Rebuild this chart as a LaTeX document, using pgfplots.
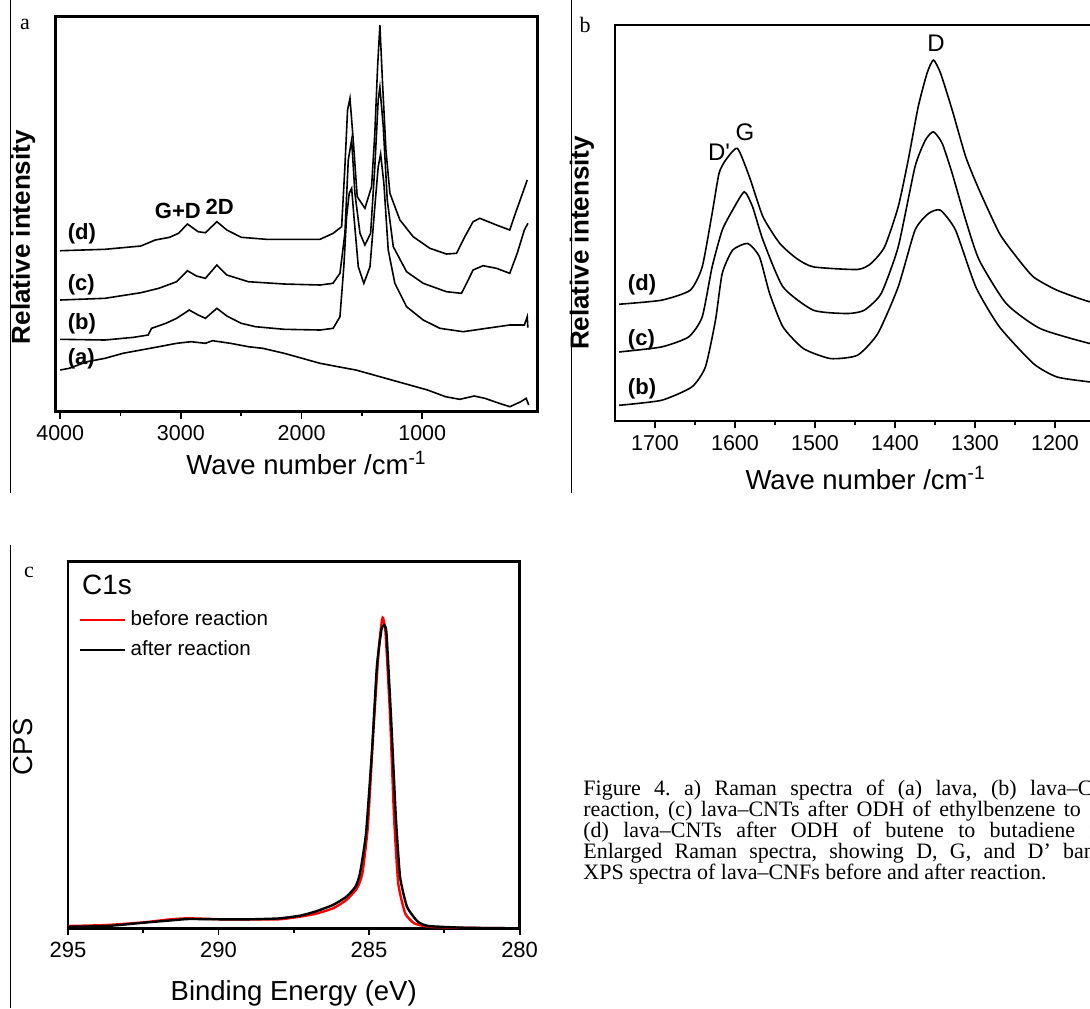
\documentclass[border=0pt]{standalone}
\usepackage{fontspec}
\setmainfont{Liberation Serif}
\newfontfamily\arial{Liberation Sans}
\usepackage{pgfplots}
\pgfplotsset{compat=1.18}

\pgfplotsset{
  spec/.style={
    scale only axis, x dir=reverse, ytick=\empty,
    xtick pos=left, tick align=outside,
    axis line style={line width=1.3pt},
    every tick/.style={black, line width=0.9pt},
    major tick length=3.5pt, minor tick length=2.2pt,
    scaled x ticks=false,
    tick label style={font=\fontsize{10.75}{12}\selectfont\arial},
    /pgf/number format/assume math mode=true,
    /pgf/number format/1000 sep={},
    label style={font=\fontsize{13.75}{16}\selectfont\arial},
    ylabel style={font=\fontsize{13}{15}\selectfont\arial\bfseries},
  },
  curve/.style={black, line width=0.8pt},
}

\begin{document}
\begin{tikzpicture}
\clip (0pt,0pt) rectangle (545pt,-504pt);

% ---- panel a ----
\begin{axis}[spec,
  at={(27.7pt,-205.85pt)}, anchor=south west,
  width=241.05pt, height=197.5pt,
  xmin=45, xmax=4040, ymin=0, ymax=395,
  xtick={1000,2000,3000,4000}, minor x tick num=1,
  xlabel={Wave number /cm\textsuperscript{-1}},
  xlabel style={at={(axis description cs:0.521,-0.160)}, anchor=base},
  ylabel={Relative intensity},
  ylabel style={at={(axis description cs:-0.0668,0.442)}, anchor=center},
]
% (a)
\addplot[curve] coordinates {
(4000,41.7) (3926,43.4) (3777,50) (3629,53.4) (3480,58.4) (3332,61.7)
(3183,65) (3035,68.4) (2916,70) (2797,68.4) (2738,71) (2589,68.4)
(2441,65) (2322,63.4) (2144,58.4) (1995,53.4) (1847,48.4) (1698,45)
(1550,41.7) (1401,36.7) (1253,31.7) (1104,26.7) (956,21.7) (807,15)
(689,12.4) (570,15.7) (481,13.4) (362,8.4) (273,5) (184,10) (139,13.4) (118,6.7)
};
% (b)
\addplot[curve] coordinates {
(4000,72.4) (3629,71.7) (3391,74.4) (3272,76.7) (3243,83.4) (3124,88.4)
(3035,93.4) (2931,101.7) (2857,96.7) (2797,93.4) (2702,103.4) (2619,95.7)
(2500,88.4) (2381,85) (2144,82.4) (1847,81.7) (1738,83.4) (1682,95)
(1650,145) (1627,195) (1605,218.4) (1585,223.4) (1566,195) (1530,145)
(1484,128.4) (1433,145) (1393,205) (1365,245) (1345,257.7) (1318,228.4)
(1282,161.7) (1227,128.4) (1130,105) (992,91.7) (854,83.4) (661,80)
(468,83.4) (275,86.7) (154,86.7) (130,95) (125,84)
};
% (c)
\addplot[curve] coordinates {
(4000,111.7) (3629,113.4) (3332,119) (3183,123.4) (3035,130) (2946,141)
(2871,135.7) (2797,133.4) (2702,146.7) (2619,136.7) (2441,130) (2144,127.7)
(1847,126.7) (1740,128.4) (1682,138.4) (1641,178.4) (1613,251.7) (1585,271.7)
(1558,218.4) (1516,178.4) (1475,166.7) (1428,178.4) (1393,245) (1365,311.7)
(1351,324.4) (1323,285) (1290,211.7) (1240,165) (1130,140) (992,128.4)
(799,120) (675,118.4) (633,128.4) (579,141.7) (496,146) (385,143.4)
(275,138.4) (213,158.4) (154,181.7) (124,188.4)
};
% (d)
\addplot[curve] coordinates {
(4000,161) (3629,162.4) (3332,165.7) (3213,171.7) (3094,174.4) (3020,178.4)
(2946,187.7) (2857,180) (2797,179) (2702,190) (2619,181.7) (2500,174.4)
(2292,172.4) (1847,172.4) (1738,178.4) (1668,185) (1641,245) (1619,301.7)
(1599,313.4) (1572,271.7) (1539,215) (1475,203.4) (1420,225) (1393,278.4)
(1370,345) (1351,386.7) (1329,328.4) (1301,261.7) (1268,218.4) (1185,191.7)
(1075,175) (937,163.4) (799,157.7) (716,158.4) (647,175) (579,190)
(523,193.4) (385,186.7) (275,181.7) (228,198.4) (169,218.4) (130,231.7)
};
\node[font=\fontsize{11}{13}\selectfont\arial\bfseries, anchor=west] at (axis cs:3995,178.4) {(d)};
\node[font=\fontsize{11}{13}\selectfont\arial\bfseries, anchor=west] at (axis cs:3995,126.7) {(c)};
\node[font=\fontsize{11}{13}\selectfont\arial\bfseries, anchor=west] at (axis cs:3995,88.4) {(b)};
\node[font=\fontsize{11}{13}\selectfont\arial\bfseries, anchor=west] at (axis cs:3995,53.4) {(a)};
\node[font=\fontsize{11}{13}\selectfont\arial\bfseries] at (axis cs:3025,201) {G+D};
\node[font=\fontsize{11}{13}\selectfont\arial\bfseries] at (axis cs:2678,205) {2D};
\end{axis}

% ---- panel b ----
\begin{axis}[spec,
  at={(307.5pt,-210.5pt)}, anchor=south west,
  width=260pt, height=198pt,
  xmin=1100, xmax=1750, ymin=0, ymax=395.7,
  xtick={1200,1300,1400,1500,1600,1700}, minor x tick num=1,
  xlabel={Wave number /cm\textsuperscript{-1}},
  xlabel style={at={(axis description cs:0.482,-0.174)}, anchor=base},
  ylabel={Relative intensity},
  ylabel style={at={(axis description cs:-0.0635,0.4495)}, anchor=center},
]
% (b)
\addplot[curve, smooth, tension=0.35] coordinates {
(1744.8,15.7) (1692,20.7) (1654,34) (1637,54) (1624.4,100.7) (1616,147.4)
(1603,170.7) (1584,177.4) (1569.4,164) (1556.7,127.4) (1540,94) (1514.5,72.4)
(1480.7,62.4) (1446.9,65.7) (1421.5,87.4) (1396,134) (1375,190.7) (1358,207.4)
(1343.3,210.7) (1324.3,190.7) (1299,134) (1269.4,94) (1227,57.4) (1197.5,44)
(1156,39) (1110,35)
};
% (c)
\addplot[curve, smooth, tension=0.35] coordinates {
(1744.8,69) (1692,74) (1658,84) (1641,104) (1628.6,154) (1616,190.7)
(1603,210.7) (1588.4,229) (1578,214) (1565,180.7) (1540,134) (1502,110.7)
(1459.5,107.4) (1438.4,110.7) (1417.3,127.4) (1396,174) (1375,254) (1362,280.7)
(1352,289) (1341,277.4) (1328.5,247.4) (1311.6,200.7) (1294.7,160.7) (1261,117.4)
(1218.6,92.4) (1156,77.4) (1110,72)
};
% (d)
\addplot[curve, smooth, tension=0.35] coordinates {
(1744.8,116.7) (1692,120.7) (1656,130.7) (1641,154) (1628.6,207.4) (1620,247.4)
(1611.7,260.7) (1597,272.4) (1582,244) (1565,204) (1544,177.4) (1523,162.4)
(1502,154) (1447,151.4) (1430,157.4) (1413,174) (1396,214) (1383.5,260.7)
(1371,314) (1360,347.4) (1352,360.7) (1343,347.4) (1328.5,310.7) (1311.6,264)
(1294.7,230.7) (1269.4,187.4) (1248.2,164) (1227,144) (1197.5,130.7) (1156,119)
(1110,113)
};
\node[font=\fontsize{11}{13}\selectfont\arial\bfseries, anchor=west] at (axis cs:1742.6,135.7) {(d)};
\node[font=\fontsize{11}{13}\selectfont\arial\bfseries, anchor=west] at (axis cs:1742.6,80.7) {(c)};
\node[font=\fontsize{11}{13}\selectfont\arial\bfseries, anchor=west] at (axis cs:1742.6,32.4) {(b)};
\node[font=\fontsize{12}{14}\selectfont\arial] at (axis cs:1348.75,377.4) {D};
\node[font=\fontsize{12}{14}\selectfont\arial] at (axis cs:1620,269) {D'};
\node[font=\fontsize{12}{14}\selectfont\arial] at (axis cs:1587.5,289) {G};
\end{axis}

% ---- panel c ----
\begin{axis}[spec,
  at={(33.95pt,-464.15pt)}, anchor=south west,
  width=225.85pt, height=183.3pt,
  xmin=280, xmax=295, ymin=0, ymax=366.6,
  xtick={280,285,290,295}, minor x tick num=1,
  tick label style={font=\fontsize{11}{13}\selectfont\arial},
  xlabel={Binding Energy (eV)},
  xlabel style={at={(axis description cs:0.5,-0.1956)}, anchor=base},
  ylabel={CPS},
  ylabel style={font=\fontsize{13.75}{16}\selectfont\arial, at={(axis description cs:-0.0994,0.495)}, anchor=center},
  legend style={at={(axis description cs:0.011,0.889)}, anchor=north west,
    draw=none, fill=none, font=\fontsize{10.3}{12}\selectfont\arial,
    row sep=2pt, cells={anchor=west}},
  legend image code/.code={\draw[#1] (0pt,0pt) -- (22.5pt,0pt);},
]
\addplot[red, line width=1.2pt, smooth, tension=0.3] coordinates {
(295,2.3) (293.7,3.3) (292.5,5.9) (291.6,9) (291,10) (289.9,9) (289,9) (288,9)
(287.3,11.6) (286.8,14.3) (286.2,19.9) (285.75,28.3) (285.4,40) (285.22,55)
(285.04,101.6) (284.86,195) (284.68,278.3) (284.57,308.3) (284.53,310)
(284.45,295) (284.3,211.6) (284.17,111.6) (284.03,45) (283.8,15) (283.5,5)
(283.02,1.6) (281.8,0.5) (280,0)
};
\addlegendentry{before reaction}
\addplot[black, line width=1.2pt, smooth, tension=0.3] coordinates {
(295,1.6) (293.7,2.3) (292.5,5.6) (291.7,7.6) (291,9.3) (289.9,9) (289,9) (288,9.9)
(287.3,12.6) (286.8,16.6) (286.2,23.3) (285.75,31.6) (285.45,41.6) (285.3,55)
(285.1,95) (284.9,178.3) (284.74,261.6) (284.59,298.3) (284.5,303.3)
(284.42,295) (284.27,211.6) (284.11,111.6) (283.97,51.6) (283.74,21.6)
(283.38,6.6) (283.02,2.3) (281.84,0.6) (280,0)
};
\addlegendentry{after reaction}
\node[font=\fontsize{14}{16}\selectfont\arial, anchor=west] at (axis cs:294.76,343.3) {C1s};
\end{axis}

% ---- page decorations ----
\draw[line width=0.6pt] (5.35pt,0pt) -- (5.35pt,-246.5pt);
\draw[line width=0.6pt] (285.9pt,0pt) -- (285.9pt,-246.5pt);
\draw[line width=0.6pt] (5.35pt,-272.5pt) -- (5.35pt,-504pt);
\node[font=\fontsize{11}{13}\selectfont] at (12.5pt,-12pt) {a};
\node[font=\fontsize{11}{13}\selectfont] at (292.5pt,-12.5pt) {b};
\node[font=\fontsize{11}{13}\selectfont] at (14.5pt,-286pt) {c};

\begin{scope}[every node/.style={anchor=base west, inner sep=0pt, font=\fontsize{11}{12}\selectfont\frenchspacing}]
\node at (291.5pt,-397.5pt) {\makebox[307.5pt][s]{Figure 4. a) Raman spectra of (a) lava, (b) lava–CNTs before}};
\node at (291.5pt,-408pt) {\makebox[307.5pt][s]{reaction, (c) lava–CNTs after ODH of ethylbenzene to styrene, and}};
\node at (291.5pt,-418.5pt) {\makebox[307.5pt][s]{(d) lava–CNTs after ODH of butene to butadiene reaction. b)}};
\node at (291.5pt,-429pt) {\makebox[283pt][s]{Enlarged Raman spectra, showing D, G, and D' bands. c)}};
\node at (291.5pt,-439.5pt) {XPS spectra of lava–CNFs before and after reaction.};
\end{scope}
\end{tikzpicture}
\end{document}
